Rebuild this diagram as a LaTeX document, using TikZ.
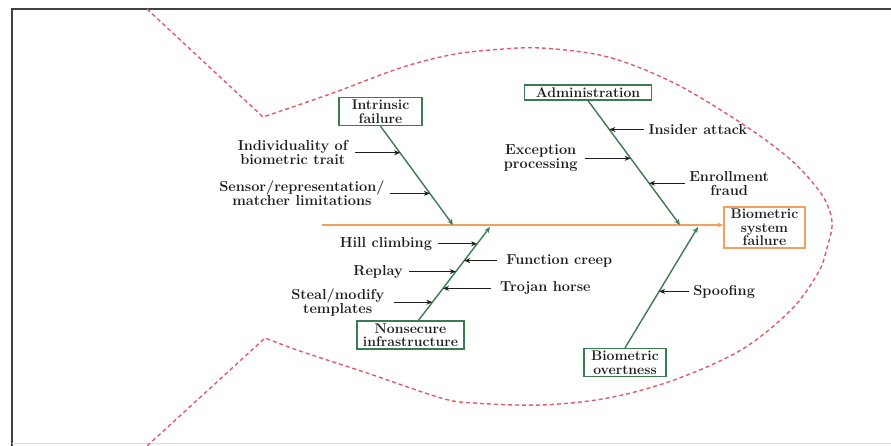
\documentclass[tikz,border=0pt]{standalone}
\usetikzlibrary{arrows.meta,calc}
\definecolor{fishred}{RGB}{222,92,108}
\definecolor{ribgreen}{RGB}{60,122,82}
\definecolor{spineor}{RGB}{242,160,95}
\definecolor{txt}{RGB}{30,30,30}
\tikzset{
  lab/.style={font=\fontsize{14.5}{14}\selectfont\bfseries, text=txt, align=center, inner ysep=0pt, inner xsep=5pt},
  cbox/.style={draw=ribgreen, line width=1.3pt, font=\fontsize{14}{13.5}\selectfont\bfseries, text=txt, align=center, inner sep=0pt},
  ebox/.style={cbox, draw=spineor},
  rib/.style={draw=ribgreen, line width=1.4pt, -{Stealth[length=6pt,width=5pt]}},
  spine/.style={draw=spineor, line width=1.6pt, -{Stealth[length=6pt,width=5pt]}},
  sub/.style={draw=txt, line width=1.2pt, -{Stealth[length=6pt,width=5pt]}},
  fish/.style={draw=fishred, line width=1.4pt, dash pattern=on 4pt off 3pt},
}
\begin{document}
\begin{tikzpicture}[x=1pt,y=-1pt]
\useasboundingbox (0,0) rectangle (891,446);
% frame
\draw[line width=2pt, black!75] (12,446) -- (12,9) -- (891,9);
\draw[line width=0.8pt, black!12] (12,443) -- (891,443);
% fish outline
\draw[fish] (147,9) -- plot[smooth,tension=0.55] coordinates {(263,117) (333,93) (400,68) (450,55) (491,50) (541,48) (608,57) (674,83) (741,123) (791,160) (822,195) (832,222) (827,248) (818,273) (791,310) (741,350) (674,380) (608,398) (541,405) (474,403) (441,398) (367,373) (300,351) (265,338)} -- (147,446);

% boxes
\node[ebox, minimum width=81pt, minimum height=41pt] (eff) at (764.5,227.5) {Biometric\\system\\failure};
\node[cbox, minimum width=83pt, minimum height=28pt] (intr) at (380.5,111.5) {Intrinsic\\failure};
\node[cbox, minimum width=127pt, minimum height=15pt] (adm) at (588,92.5) {Administration};
\node[cbox, minimum width=107pt, minimum height=28pt] (nons) at (410.5,335) {Nonsecure\\infrastructure};
\node[cbox, minimum width=82pt, minimum height=28pt] (over) at (625,362.5) {Biometric\\overtness};

% spine
\coordinate (s0) at (322,225);
\draw[spine] (s0) -- (s0 -| eff.west);

% ribs
\coordinate (iE) at (453,225);
\coordinate (aE) at (680,225);
\coordinate (nA) at (418,321);
\coordinate (nE) at (490,227);
\coordinate (oE) at (698,227);
\draw[rib] (intr.south) -- (iE);
\draw[rib] (adm.south) -- (aE);
\draw[rib] (nA) -- (nE);
\draw[rib] (over.north) -- (oE);

% intrinsic sub-causes
\coordinate (p1) at ($(intr.south)!0.27!(iE)$);
\coordinate (p2) at ($(intr.south)!0.68!(iE)$);
\node[lab, anchor=east, inner xsep=7pt] (l1) at ($(p1)+(-45,0)$) {Individuality of\\biometric trait};
\node[lab, anchor=east] (l2) at ($(p2)+(-40,0)$) {Sensor/representation/\\matcher limitations};
\draw[sub] (l1.east) -- (p1);
\draw[sub] (l2.east) -- (p2);

% administration sub-causes
\coordinate (q1) at ($(adm.south)!0.232!(aE)$);
\coordinate (q2) at ($(adm.south)!0.464!(aE)$);
\coordinate (q3) at ($(adm.south)!0.664!(aE)$);
\node[lab, anchor=west, inner xsep=4pt] (m1) at ($(q1)+(35,0)$) {Insider attack};
\node[lab, anchor=east, inner xsep=7pt] (m2) at ($(q2)+(-46,0)$) {Exception\\processing};
\node[lab, anchor=west, inner xsep=4pt] (m3) at ($(q3)+(36,0)$) {Enrollment\\fraud};
\draw[sub] (m1.west) -- (q1);
\draw[sub] (m2.east) -- (q2);
\draw[sub] (m3.west) -- (q3);

% nonsecure sub-causes
\coordinate (r1) at ($(nA)!0.821!(nE)$);
\coordinate (r2) at ($(nA)!0.642!(nE)$);
\coordinate (r3) at ($(nA)!0.526!(nE)$);
\coordinate (r4) at ($(nA)!0.347!(nE)$);
\coordinate (r5) at ($(nA)!0.2!(nE)$);
\node[lab, anchor=east, inner xsep=6pt] (n1) at ($(r1)+(-39,0)$) {Hill climbing};
\node[lab, anchor=west, inner xsep=9pt] (n2) at ($(r2)+(33,0)$) {Function creep};
\node[lab, anchor=east, inner xsep=6pt] (n3) at ($(r3)+(-47,0)$) {Replay};
\node[lab, anchor=west, inner xsep=9pt] (n4) at ($(r4)+(48,0)$) {Trojan horse};
\node[lab, anchor=east, inner xsep=10pt] (n5) at ($(r5)+(-38,0)$) {Steal/modify\\templates};
\draw[sub] (n1.east) -- (r1);
\draw[sub] (n2.west) -- (r2);
\draw[sub] (n3.east) -- (r3);
\draw[sub] (n4.west) -- (r4);
\draw[sub] (n5.east) -- (r5);

% overtness sub-cause
\coordinate (t1) at ($(over.north)!0.467!(oE)$);
\node[lab, anchor=west, inner xsep=4pt] (o1) at ($(t1)+(30,0)$) {Spoofing};
\draw[sub] (o1.west) -- (t1);
\end{tikzpicture}
\end{document}
